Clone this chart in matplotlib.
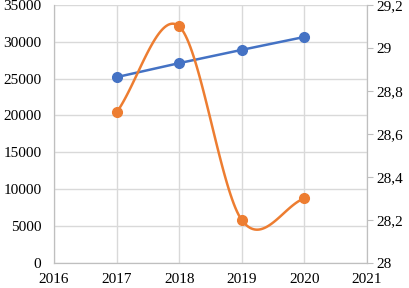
import numpy as np
import matplotlib.pyplot as plt
from matplotlib.ticker import FuncFormatter

years = [2017, 2018, 2019, 2020]
blue_vals = [25200, 27100, 28900, 30650]
orange_vals = [28.7, 29.1, 28.2, 28.3]

x_ticks = [2016, 2017, 2018, 2019, 2020, 2021]
left_ticks = [0, 5000, 10000, 15000, 20000, 25000, 30000, 35000]
right_ticks = [28, 28.2, 28.4, 28.6, 28.8, 29, 29.2]

blue = '#4472C4'
orange = '#ED7D31'
grid_c = '#D9D9D9'

plt.rcParams['font.family'] = ['Liberation Serif', 'DejaVu Serif']


def smooth(xs, ys, n=40, t=0.5):
    # catmull-rom style smoothing, like a spreadsheet "smoothed line"
    xs = np.asarray(xs, float)
    ys = np.asarray(ys, float)
    px = np.concatenate([[2 * xs[0] - xs[1]], xs, [2 * xs[-1] - xs[-2]]])
    py = np.concatenate([[2 * ys[0] - ys[1]], ys, [2 * ys[-1] - ys[-2]]])
    outx, outy = [], []
    for i in range(1, len(px) - 2):
        s = np.linspace(0, 1, n)
        p0, p1, p2, p3 = px[i - 1], px[i], px[i + 1], px[i + 2]
        q0, q1, q2, q3 = py[i - 1], py[i], py[i + 1], py[i + 2]
        m1x, m2x = t * (p2 - p0), t * (p3 - p1)
        m1y, m2y = t * (q2 - q0), t * (q3 - q1)
        h00 = 2 * s**3 - 3 * s**2 + 1
        h10 = s**3 - 2 * s**2 + s
        h01 = -2 * s**3 + 3 * s**2
        h11 = s**3 - s**2
        outx.extend(h00 * p1 + h10 * m1x + h01 * p2 + h11 * m2x)
        outy.extend(h00 * q1 + h10 * m1y + h01 * q2 + h11 * m2y)
    return np.array(outx), np.array(outy)


fig = plt.figure(figsize=(4.09, 2.88), dpi=100)
ax = fig.add_axes([0.132, 0.087, 0.765, 0.896])
ax2 = ax.twinx()

ax.set_xlim(2016, 2021)
ax.set_ylim(0, 35000)
ax2.set_ylim(28, 29.2)

ax.set_xticks(x_ticks)
ax.set_yticks(left_ticks)
ax2.set_yticks(right_ticks)
ax.grid(True, color=grid_c, linewidth=1)
ax.set_axisbelow(True)

ax.plot(years, blue_vals, color=blue, lw=1.8, marker='o', ms=7, zorder=3)

sx, sy = smooth(years, orange_vals)
ax2.plot(sx, sy, color=orange, lw=1.8, zorder=3)
ax2.plot(years, orange_vals, 'o', color=orange, ms=7, zorder=4)

ax2.yaxis.set_major_formatter(FuncFormatter(lambda v, p: ('%g' % round(v, 1)).replace('.', ',')))

for a in (ax, ax2):
    a.spines['top'].set_visible(False)
    for side in ('left', 'right', 'bottom'):
        a.spines[side].set_color('#BFBFBF')
    a.tick_params(labelsize=11, colors='#BFBFBF', labelcolor='black')

ax.tick_params(axis='y', length=0, pad=9)
ax.tick_params(axis='x', length=0, pad=7)
ax2.tick_params(axis='y', length=4, pad=3)

fig.savefig('out.png', dpi=100)
